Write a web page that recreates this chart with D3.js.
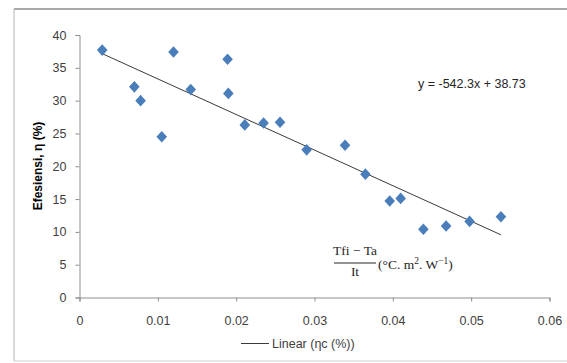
<!DOCTYPE html>
<html>
<head>
<meta charset="utf-8">
<script src="https://cdn.jsdelivr.net/npm/d3@7"></script>
<style>
  body { margin: 0; background: #fff; }
  svg { display: block; }
</style>
</head>
<body>
<div id="chart"></div>
<script>
// chart size
var width = 567,
    height = 363

// data
var xValues = [0.0029, 0.0070, 0.0078, 0.0105, 0.0120, 0.0142, 0.0189, 0.0190, 0.0211, 0.0235,
               0.0256, 0.0290, 0.0339, 0.0365, 0.0396, 0.0410, 0.0439, 0.0468, 0.0498, 0.0538]
var yValues = [37.7, 32.1, 30.0, 24.5, 37.4, 31.7, 36.3, 31.1, 26.3, 26.6,
               26.7, 22.5, 23.2, 18.8, 14.7, 15.1, 10.4, 10.9, 11.6, 12.3]
var xTicks = [0, 0.01, 0.02, 0.03, 0.04, 0.05, 0.06]
var yTicks = [0, 5, 10, 15, 20, 25, 30, 35, 40]
var slope = -542.3,
    intercept = 38.73

var font = "'Liberation Sans', sans-serif"

var svg = d3.select("#chart")
  .append("svg")
    .attr("width", width)
    .attr("height", height)

// outer frame
svg.append("line")
  .attr("x1", 14).attr("x2", width).attr("y1", 9).attr("y2", 9)
  .attr("stroke", "#8c8c8c").attr("stroke-width", 1.5)
svg.append("line")
  .attr("x1", 14).attr("x2", 14).attr("y1", 9).attr("y2", 361)
  .attr("stroke", "#b4b4b4").attr("stroke-width", 1)
svg.append("line")
  .attr("x1", 14).attr("x2", width).attr("y1", 361).attr("y2", 361)
  .attr("stroke", "#d0d0d0").attr("stroke-width", 1)

// scales
var x = d3.scaleLinear().domain([0, 0.06]).range([79.5, 549.5])
var y = d3.scaleLinear().domain([0, 40]).range([297.5, 35])

// axes
svg.append("g")
  .attr("transform", "translate(0," + y(0) + ")")
  .call(d3.axisBottom(x).tickValues(xTicks).tickSize(4).tickPadding(15)
    .tickFormat(function(d) { return d === 0 ? "0" : d3.format(".2f")(d) }))
svg.append("g")
  .attr("transform", "translate(" + x(0) + ",0)")
  .call(d3.axisLeft(y).tickValues(yTicks).tickSize(4).tickPadding(9))

svg.selectAll(".domain, .tick line").attr("stroke", "#8e8e8e")
svg.selectAll(".tick text")
  .attr("fill", "#404040")
  .style("font-family", font)
  .style("font-size", "12.5px")

// y axis title
svg.append("text")
  .attr("transform", "translate(42,166) rotate(-90)")
  .attr("text-anchor", "middle")
  .style("font-family", font)
  .style("font-size", "12px")
  .style("font-weight", "bold")
  .attr("fill", "#000")
  .text("Efesiensi, η (%)")

// trend line
var xMin = d3.min(xValues),
    xMax = d3.max(xValues)
svg.append("line")
  .attr("x1", x(xMin)).attr("y1", y(slope * xMin + intercept))
  .attr("x2", x(xMax)).attr("y2", y(slope * xMax + intercept))
  .attr("stroke", "#3a3a3a").attr("stroke-width", 1)

// diamond markers
var points = xValues.map(function(v, i) { return [v, yValues[i]] })
svg.selectAll("allPoints")
  .data(points)
  .enter()
  .append("path")
    .attr("d", function(d) {
      var cx = x(d[0]), cy = y(d[1])
      return "M" + cx + "," + (cy - 5.8) + "L" + (cx + 5.3) + "," + cy +
             "L" + cx + "," + (cy + 5.8) + "L" + (cx - 5.3) + "," + cy + "Z"
    })
    .attr("fill", "#4a7ebb")

// equation
svg.append("text")
  .attr("x", 418).attr("y", 88)
  .style("font-family", font)
  .style("font-size", "12.5px")
  .attr("fill", "#262626")
  .text("y = -542.3x + 38.73")

// x quantity written as a fraction
var serif = "'Liberation Serif', 'DejaVu Serif', serif"
var frac = svg.append("g").style("font-family", serif).style("font-size", "13.5px").attr("fill", "#262626")
frac.append("text").attr("x", 355).attr("y", 255).attr("text-anchor", "middle").text("Tfi − Ta")
frac.append("line").attr("x1", 334).attr("x2", 376).attr("y1", 263).attr("y2", 263)
  .attr("stroke", "#262626").attr("stroke-width", 1)
frac.append("text").attr("x", 355).attr("y", 276).attr("text-anchor", "middle").text("It")
var unit = frac.append("text").attr("x", 378).attr("y", 269)
unit.append("tspan").text("(°C. m")
unit.append("tspan").attr("dy", -5).style("font-size", "9.5px").text("2")
unit.append("tspan").attr("dy", 5).text(". W")
unit.append("tspan").attr("dy", -5).style("font-size", "9.5px").text("−1")
unit.append("tspan").attr("dy", 5).text(")")

// legend
svg.append("line")
  .attr("x1", 241).attr("x2", 269).attr("y1", 343.5).attr("y2", 343.5)
  .attr("stroke", "#3a3a3a").attr("stroke-width", 1)
svg.append("text")
  .attr("x", 272).attr("y", 348)
  .style("font-family", font)
  .style("font-size", "12.5px")
  .attr("fill", "#404040")
  .text("Linear (ηc (%))")
</script>
</body>
</html>
